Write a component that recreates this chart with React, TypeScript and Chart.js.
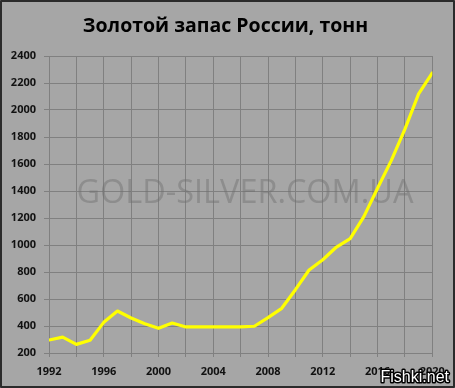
import React, { useEffect, useRef } from "react";
import { Chart, registerables } from "chart.js";

Chart.register(...registerables);

const title = "Золотой запас России, тонн";
const years = [1992, 1993, 1994, 1995, 1996, 1997, 1998, 1999, 2000, 2001, 2002, 2003, 2004, 2005, 2006, 2007, 2008, 2009, 2010, 2011, 2012, 2013, 2014, 2015, 2016, 2017, 2018, 2019, 2020];
const reserves = [296, 318, 264, 294, 427, 511, 459, 417, 383, 422, 393, 393, 393, 393, 393, 398, 462, 531, 669, 815, 891, 985, 1047, 1210, 1420, 1625, 1858, 2120, 2275];
const xLabelYears = [1992, 1996, 2000, 2004, 2008, 2012, 2016, 2020];
const watermark = "GOLD-SILVER.COM.UA";
const corner = "Fishki.net";

const W = 455;
const H = 388;

const decorPlugin = {
  id: "decor",
  beforeDraw(chart: any) {
    const { ctx } = chart;
    ctx.save();
    ctx.fillStyle = "#a6a6a6";
    ctx.fillRect(0, 0, W, H);
    ctx.restore();
  },
  beforeDatasetsDraw(chart: any) {
    const { ctx } = chart;
    ctx.save();
    let size = 30;
    ctx.font = `${size}px "Open Sans"`;
    const m = ctx.measureText(watermark).width;
    size = (30 * 337) / m;
    ctx.font = `${size}px "Open Sans"`;
    ctx.fillStyle = "rgba(110,110,110,0.45)";
    ctx.textAlign = "center";
    ctx.textBaseline = "middle";
    ctx.fillText(watermark, 245, 194);
    ctx.restore();
  },
  afterDraw(chart: any) {
    const { ctx } = chart;
    ctx.save();
    ctx.font = '16px "Liberation Sans"';
    ctx.textAlign = "right";
    ctx.textBaseline = "alphabetic";
    ctx.lineJoin = "round";
    ctx.lineWidth = 3;
    ctx.strokeStyle = "#000";
    ctx.strokeText(corner, 449, 382);
    ctx.fillStyle = "#fff";
    ctx.fillText(corner, 449, 382);
    ctx.strokeStyle = "#2b2b2b";
    ctx.lineWidth = 2;
    ctx.strokeRect(1, 1, W - 2, H - 2);
    ctx.restore();
  },
};

export default function App() {
  const ref = useRef<HTMLCanvasElement | null>(null);
  useEffect(() => {
    if (!ref.current) return;
    const chart = new Chart(ref.current, {
      type: "line",
      data: {
        datasets: [
          {
            label: title,
            data: years.map((y, i) => ({ x: y, y: reserves[i] })),
            borderColor: "#ffff00",
            borderWidth: 3.2,
            pointRadius: 0,
            tension: 0,
            borderJoinStyle: "round",
            borderCapStyle: "round",
          },
        ],
      },
      options: {
        animation: false,
        responsive: false,
        devicePixelRatio: 1,
        layout: { padding: { top: 0, right: 4, bottom: 0, left: 0 } },
        plugins: {
          legend: { display: false },
          tooltip: { enabled: false },
          title: {
            display: true,
            text: title,
            color: "#000",
            font: { family: '"Open Sans"', size: 19.5, weight: "bold" },
            padding: { top: 14.3, bottom: 18.3 },
          },
        },
        scales: {
          x: {
            type: "linear",
            min: 1992,
            max: 2020,
            afterFit(scale: any) {
              scale.height = 35;
              scale.paddingRight = 22.7;
            },
            ticks: {
              stepSize: 2,
              autoSkip: false,
              maxRotation: 0,
              color: "#111",
              padding: 8,
              font: { family: '"Open Sans"', size: 11, weight: "bold" },
              callback: (v: any) => (xLabelYears.includes(Number(v)) ? String(v) : ""),
            },
            grid: { color: "#808080", lineWidth: 1, tickLength: 4, drawTicks: true },
            border: { color: "#808080" },
          },
          y: {
            min: 200,
            max: 2400,
            afterFit(scale: any) {
              scale.width = 49;
            },
            ticks: {
              stepSize: 200,
              color: "#111",
              padding: 8,
              font: { family: '"Open Sans"', size: 11, weight: "bold" },
              callback: (v: any) => String(v),
            },
            grid: { color: "#808080", lineWidth: 1, tickLength: 5, drawTicks: true },
            border: { color: "#808080" },
          },
        },
      },
      plugins: [decorPlugin],
    });
    return () => chart.destroy();
  }, []);
  return (
    <div style={{ position: "fixed", left: 0, top: 0, width: W, height: H }}>
      <canvas ref={ref} width={W} height={H} style={{ display: "block" }} />
    </div>
  );
}
